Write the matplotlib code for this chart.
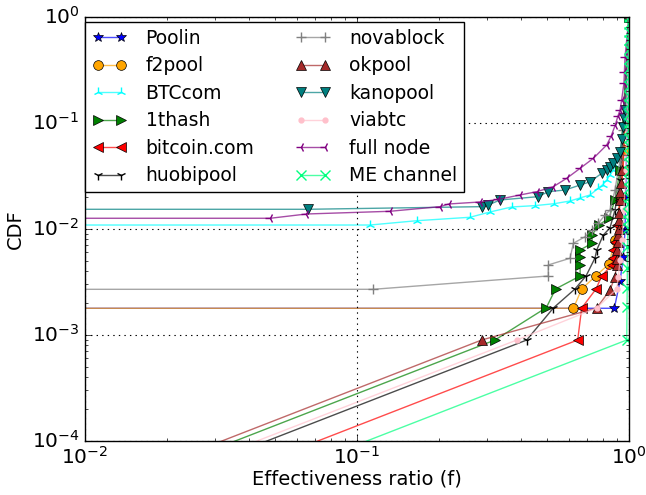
import matplotlib
matplotlib.use("Agg")
import matplotlib.pyplot as plt

# CDF do rácio de efetividade por pool
poolin_x = [0, 0.883, 0.927, 0.953, 0.967, 0.972, 0.979, 1.0]
poolin_y = [0.001775, 0.001775, 0.00321, 0.0054, 0.00972, 0.02, 0.0552, 1.0]

f2pool_x = [0, 0.6245, 0.67, 0.7545, 0.8443, 0.888, 0.927, 0.958, 1.0]
f2pool_y = [0.001775, 0.001775, 0.0027, 0.00358, 0.00465, 0.00782, 0.01866, 0.0552, 1.0]

btccom_x = [0, 0.1116, 0.1658, 0.2603, 0.3083, 0.3704, 0.45, 0.53, 0.6067, 0.66,
            0.719, 0.77, 0.8, 0.828, 0.85, 0.876, 0.89, 0.907, 0.915, 0.927, 0.94,
            0.95, 0.97, 1.0]
btccom_y = [0.01083, 0.01083, 0.01189, 0.01282, 0.01438, 0.01603, 0.0165, 0.0172,
            0.01825, 0.0195, 0.0208, 0.024, 0.026, 0.0288, 0.032, 0.0358, 0.04,
            0.0445, 0.047, 0.0514, 0.06, 0.075, 0.1, 1.0]

thash_x = [0, 0.3216, 0.4966, 0.537, 0.661, 0.661, 0.661, 0.661, 0.731, 0.731,
           0.776, 0.844, 0.888, 0.927, 1.0]
thash_y = [0, 0.000891, 0.0018, 0.0027, 0.00358, 0.00455, 0.00537, 0.0063, 0.00728,
           0.00873, 0.01083, 0.01262, 0.01866, 0.0358, 1.0]

bitcoincom_x = [0, 0.6476, 0.67, 0.7565, 0.7936, 0.864, 0.876, 0.876, 0.888, 0.904,
                0.927, 0.951, 1.0]
bitcoincom_y = [0, 0.000891, 0.001786, 0.0027, 0.00358, 0.00455, 0.00526, 0.0063,
                0.00754, 0.01083, 0.01866, 0.0358, 1.0]

huobi_x = [0, 0.4206, 0.527, 0.633, 0.695, 0.75, 0.761, 0.804, 0.851, 0.888, 0.927, 1.0]
huobi_y = [0, 0.000891, 0.001786, 0.0027, 0.00358, 0.0053, 0.0063, 0.0087, 0.01016,
           0.015, 0.0288, 1.0]

nova_x = [0, 0.1146, 0.505, 0.505, 0.6067, 0.6245, 0.689, 0.7295, 0.771, 0.8165,
          0.8515, 0.888, 0.927, 0.951, 1.0]
nova_y = [0.00268, 0.00268, 0.00358, 0.00455, 0.00526, 0.00728, 0.0084, 0.00972,
          0.01124, 0.01347, 0.015, 0.0232, 0.0445, 0.0853, 1.0]

okpool_x = [0, 0.2873, 0.7607, 0.8515, 0.888, 0.901, 0.902, 0.904, 0.908, 0.912,
            0.915, 0.919, 0.921, 0.927, 0.93, 0.935, 0.9425, 1.0]
okpool_y = [0, 0.000891, 0.001786, 0.00264, 0.00352, 0.00455, 0.0052, 0.0063, 0.0075,
            0.0087, 0.01, 0.0121, 0.014, 0.01866, 0.022, 0.027, 0.0358, 1.0]

kano_x = [0, 0.066, 0.2873, 0.304, 0.3357, 0.4628, 0.505, 0.5817, 0.661, 0.719,
          0.7936, 0.83, 0.85, 0.876, 0.9, 0.9266, 0.94, 0.953, 0.96, 0.967, 1.0]
kano_y = [0.01524, 0.01524, 0.01614, 0.01675, 0.01866, 0.02005, 0.02234, 0.02317,
          0.0258, 0.0277, 0.0333, 0.036, 0.038, 0.0414, 0.046, 0.0533, 0.07, 0.0917,
          0.11, 0.132, 1.0]

viabtc_x = [0, 0.3869, 0.7607, 0.901, 0.9135, 0.927, 0.9425, 0.958, 0.975, 1.0]
viabtc_y = [0, 0.000891, 0.001786, 0.0027, 0.00352, 0.00507, 0.00782, 0.015, 0.0358, 1.0]

fullnode_x = [0, 0.048, 0.0652, 0.132, 0.202, 0.217, 0.283, 0.331, 0.3974, 0.458,
              0.527, 0.590, 0.661, 0.740, 0.828, 0.86, 0.89, 0.91, 0.927, 0.94,
              0.958, 0.962, 0.967, 1.0]
fullnode_y = [0.01254, 0.01254, 0.01376, 0.01459, 0.01614, 0.0171, 0.01786, 0.01892,
              0.0208, 0.02234, 0.0249, 0.02987, 0.0371, 0.0462, 0.0616, 0.075, 0.095,
              0.115, 0.1318, 0.165, 0.2353, 0.3, 0.42, 1.0]

me_x = [0, 0.981, 0.983, 0.985, 0.986, 0.987, 0.99, 0.995, 0.995, 0.995, 0.996,
        0.996, 0.996, 0.996, 0.997, 0.997, 0.997, 0.997, 0.997, 0.998, 0.998, 0.998,
        0.998, 0.998, 0.998, 0.999, 0.999, 0.999, 0.999, 0.999, 0.999, 1.0]
me_y = [0, 0.000891, 0.001837, 0.00276, 0.00426, 0.00677, 0.01016, 0.012, 0.014,
        0.017, 0.02, 0.024, 0.029, 0.035, 0.042, 0.05, 0.06, 0.072, 0.086, 0.1, 0.12,
        0.15, 0.18, 0.22, 0.27, 0.33, 0.4, 0.5, 0.6, 0.72, 0.86, 1.0]

SERIES = [
    ("Poolin",      poolin_x,     poolin_y,     "blue",        "*"),
    ("f2pool",      f2pool_x,     f2pool_y,     "orange",      "o"),
    ("BTCcom",      btccom_x,     btccom_y,     "cyan",        "2"),
    ("1thash",      thash_x,      thash_y,      "green",       ">"),
    ("bitcoin.com", bitcoincom_x, bitcoincom_y, "red",         "<"),
    ("huobipool",   huobi_x,      huobi_y,      "black",       "1"),
    ("novablock",   nova_x,       nova_y,       "gray",        "+"),
    ("okpool",      okpool_x,     okpool_y,     "brown",       "^"),
    ("kanopool",    kano_x,       kano_y,       "teal",        "v"),
    ("viabtc",      viabtc_x,     viabtc_y,     "pink",        "."),
    ("full node",   fullnode_x,   fullnode_y,   "purple",      "3"),
    ("ME channel",  me_x,         me_y,         "springgreen", "x"),
]

plt.style.use("classic")
fig = plt.figure(figsize=(6.46, 4.95), dpi=100)
ax = fig.add_axes([0.1316, 0.1097, 0.8421, 0.8566])
ax.set_xscale("log", nonpositive="clip")
ax.set_yscale("log", nonpositive="clip")

for name, xs, ys, col, mk in SERIES:
    line_col = matplotlib.colors.to_rgba(col, 0.7)
    edged = mk in ("*", "o", ">", "<", "^", "v")
    ax.plot(xs, ys, color=line_col, marker=mk, markersize=7, linewidth=1.0,
            markerfacecolor=col,
            markeredgecolor="black" if edged else col,
            markeredgewidth=0.5 if edged else 1.0,
            label=name)

ax.set_xlim(1e-2, 1)
ax.set_ylim(1e-4, 1)
ax.grid(True, which="major", linestyle=":", color="black", linewidth=0.8)
ax.tick_params(labelsize=14.5)
ax.set_xlabel("Effectiveness ratio (f)", fontsize=14, labelpad=1)
ax.set_ylabel("CDF", fontsize=14)

ax.legend(loc="upper left", bbox_to_anchor=(0.0, 0.988), borderaxespad=0,
          ncol=2, fontsize=13.5, numpoints=2, handlelength=1.85,
          handletextpad=1.0, columnspacing=2.2, labelspacing=0.45,
          borderpad=0.38, fancybox=False, framealpha=1.0)

plt.savefig("out.png", dpi=100)
plt.close()
